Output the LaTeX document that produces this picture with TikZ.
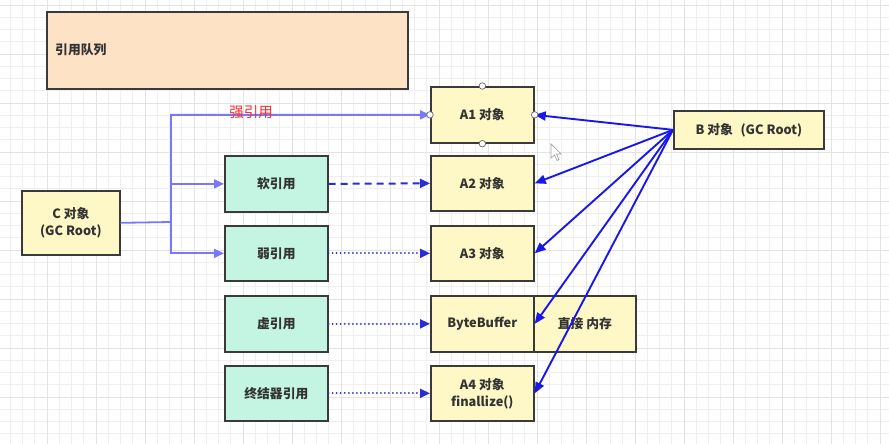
\documentclass[tikz,border=0pt]{standalone}
\usepackage{fontspec}
\setmainfont{Noto Sans CJK SC}
\usetikzlibrary{arrows.meta}
\definecolor{gridminor}{HTML}{EFEFEF}
\definecolor{gridmajor}{HTML}{E3E3E3}
\definecolor{peach}{HTML}{FDE2C6}
\definecolor{boxyellow}{HTML}{FEF7C6}
\definecolor{boxgreen}{HTML}{C4F4E2}
\definecolor{boxline}{HTML}{3A3A3A}
\definecolor{txt}{HTML}{333333}
\definecolor{lightarrow}{HTML}{7878FF}
\definecolor{darkarrow}{HTML}{2B2BD8}
\definecolor{barrow}{HTML}{1818EE}
\definecolor{redlabel}{HTML}{FF2A2A}
\tikzset{
  base/.style={draw=boxline, line width=1.7pt, rectangle, inner sep=0pt, anchor=north west,
    text=txt, font=\fontsize{12.8}{17}\selectfont\bfseries, align=center},
  ybox/.style={base, fill=boxyellow},
  gbox/.style={base, fill=boxgreen},
  carrow/.style={draw=lightarrow, line width=1.8pt, -{Triangle[length=10pt,width=9pt]}},
  softarrow/.style={draw=darkarrow, line width=2pt, dash pattern=on 7pt off 5pt, -{Triangle[length=10pt,width=9pt]}},
  weakarrow/.style={draw=darkarrow, line width=2pt, line cap=round, dash pattern=on 0.01pt off 4pt, -{Triangle[length=10pt,width=9pt]}},
  barr/.style={draw=barrow, line width=1.9pt, -{Triangle[length=11pt,width=9pt]}},
  handle/.style={circle, draw=gray!80!black, fill=white, line width=0.7pt, minimum size=6.5pt, inner sep=0pt},
}
\begin{document}
\begin{tikzpicture}[x=1pt,y=-1pt]
\useasboundingbox (0,0) rectangle (889,444);
\fill[white] (0,0) rectangle (889,444);
% grid
\foreach \i in {0,...,73} \draw[gridminor, line width=0.7pt] ({\i*12.25-2},0) -- ({\i*12.25-2},444);
\foreach \i in {0,...,37} \draw[gridminor, line width=0.7pt] (0,{\i*12.25+5}) -- (889,{\i*12.25+5});
\foreach \i in {0,...,18} \draw[gridmajor, line width=0.9pt] ({\i*49-2},0) -- ({\i*49-2},444);
\foreach \i in {0,...,9} \draw[gridmajor, line width=0.9pt] (0,{\i*49+5}) -- (889,{\i*49+5});

% boxes
\node[base, fill=peach, minimum width=361pt, minimum height=77pt] (queue) at (46,11) {};
\node[anchor=west, text=txt, font=\fontsize{12.8}{17}\selectfont\bfseries, inner sep=0pt] (queuelbl) at (55,50) {引用队列};

\node[ybox, minimum width=103pt, minimum height=56pt] (A1) at (430,86) {A1 对象};
\node[ybox, minimum width=103pt, minimum height=55pt] (A2) at (430,155) {A2 对象};
\node[ybox, minimum width=103pt, minimum height=55pt] (A3) at (430,225) {A3 对象};
\node[ybox, minimum width=103pt, minimum height=56pt] (BB) at (430,295) {ByteBuffer};
\node[ybox, minimum width=102pt, minimum height=56pt] (mem) at (533,295) {直接 内存};
\node[ybox, minimum width=103pt, minimum height=55pt] (A4) at (430,365) {A4 对象\\finallize()};

\node[gbox, minimum width=103pt, minimum height=56pt] (soft) at (224,155) {软引用};
\node[gbox, minimum width=103pt, minimum height=55pt] (weak) at (224,225) {弱引用};
\node[gbox, minimum width=103pt, minimum height=56pt] (phantom) at (224,295) {虚引用};
\node[gbox, minimum width=103pt, minimum height=55pt] (final) at (224,365) {终结器引用};

\node[ybox, minimum width=98pt, minimum height=64pt] (C) at (21,190) {C 对象\\(GC Root)};
\node[ybox, minimum width=150pt, minimum height=38pt] (B) at (673,110) {B 对象\hspace{0.6em}(GC Root)};

% C connectors
\coordinate (j) at (171,222);
\draw[carrow] (C.east) -- (j) |- (A1.west);
\draw[carrow] (j) |- (soft.west);
\draw[carrow] (j) |- (weak.west);
\node[text=redlabel, font=\fontsize{14.5}{17}\selectfont, inner sep=0pt] (strong) at (251,112) {强引用};

% reference lines
\draw[softarrow] (soft.east) -- (A2.west);
\draw[weakarrow] (weak.east) -- (A3.west);
\draw[weakarrow] (phantom.east) -- (BB.west);
\draw[weakarrow] (final.east) -- (A4.west);

% B connectors
\draw[barr] (B.west) -- (A1.east);
\draw[barr] (B.west) -- (A2.east);
\draw[barr] (B.west) -- (A3.east);
\draw[barr] (B.west) -- (BB.east);
\draw[barr] (B.west) -- (A4.east);

% selection handles
\node[handle] (h1) at (A1.north) {};
\node[handle] (h2) at (A1.south) {};
\node[handle] (h3) at (A1.west) {};
\node[handle] (h4) at (A1.east) {};

% mouse pointer
\draw[gray!70, fill=white, line width=0.7pt] (551,144) -- (551,158) -- (554.5,155) -- (557,160.5) -- (559,159.5) -- (556.5,154) -- (561,154) -- cycle;
\end{tikzpicture}
\end{document}
